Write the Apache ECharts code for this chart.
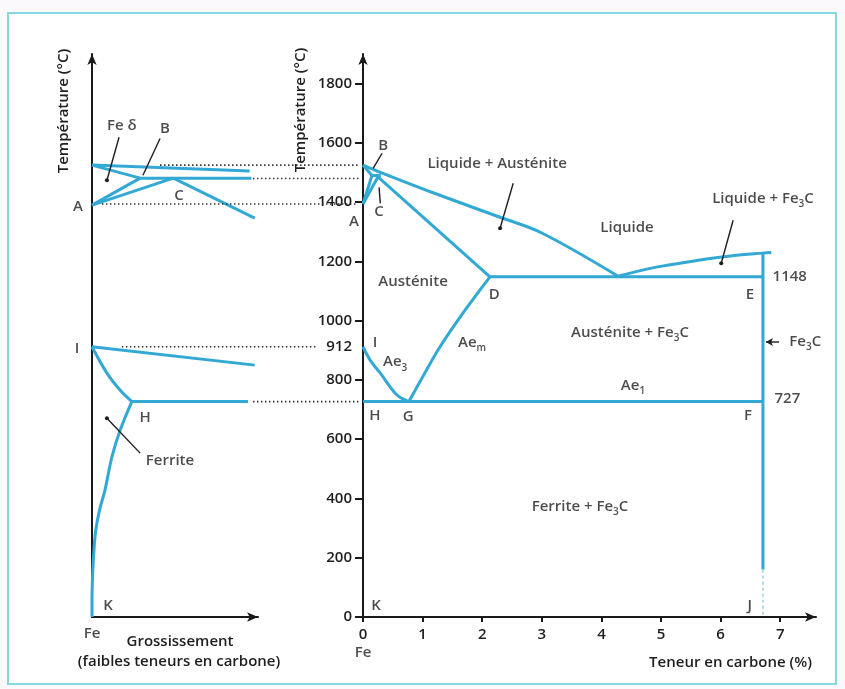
<!DOCTYPE html>
<html><head><meta charset="utf-8">
<script src="https://cdn.jsdelivr.net/npm/echarts@6/dist/echarts.min.js"></script>
<style>html,body{margin:0;padding:0;background:#fcf9fd;} #c{width:845px;height:689px;}</style>
</head><body><div id="c"></div>
<script>
// ---------------- data ----------------
const yTicks = [0, 200, 400, 600, 800, 1000, 1200, 1400, 1600, 1800];
const yExtraLabels = [912];
const xTicks = [0, 1, 2, 3, 4, 5, 6, 7];

// main diagram : x = teneur en carbone (%), y = température (°C)
const mLiquidus      = [[0,1525],[0.2,1508],[1.2,1430],[2.3,1349],[3.0,1296],[4.28,1150]];
const mDeltaSolidus  = [[0,1525],[0.15,1490]];
const mPeritectic    = [[0.15,1490],[0.3,1490]];
const mDeltaGamma    = [[0,1394],[0.15,1490]];
const mGammaLimit    = [[0,1394],[0.25,1485]];
const mSolidus       = [[0.25,1485],[2.13,1148]];
const mEutectic      = [[2.13,1148],[6.71,1148]];
const mHyperLiquidus = [[4.28,1150],[4.9,1180],[5.6,1203],[6.2,1219],[6.71,1228],[6.85,1230]];
const mCementite     = [[6.71,1228],[6.71,160]];
const mCementiteLow  = [[6.71,160],[6.71,0]];
const mAem           = [[0.77,727],[1.0,810],[1.29,911],[1.7,1032],[2.13,1148]];
const mAe3           = [[0,912],[0.12,867],[0.29,823],[0.57,749],[0.77,727]];
const mAe1           = [[0,727],[6.71,727]];

// enlarged panel (faibles teneurs en carbone), arbitrary enlarged carbon units
const lLiquidus      = [[0,1525],[9.5,1505]];
const lDeltaSolidus  = [[0,1525],[2.9,1481]];
const lPeritectic    = [[2.9,1481],[9.6,1481]];
const lDeltaGamma    = [[0,1390],[2.9,1481]];
const lGammaLimit    = [[0,1390],[4.9,1481]];
const lSolidus       = [[4.9,1481],[9.8,1346]];
const l912           = [[0,912],[9.8,850]];
const lIH            = [[0,912],[0.9,823],[1.7,765],[2.4,727]];
const lH727          = [[2.4,727],[9.4,727]];
const lFerrite       = [[2.4,727],[1.7,631],[1.2,540],[0.78,428],[0.45,360],[0.22,290],[0.1,210],[0.03,130],[0,60],[0,0]];

// dotted reference lines between the two panels (temperature, from, to)
const refTemps = [1525, 1480, 1394, 912, 727];
const refFrom  = [4.1, 9.7, 0.6, 1.8, 9.7];
const refTo    = [16.1, 16.1, 16.0, 13.5, 16.1];

// ---------------- annotations ----------------
const mainText = [
 ['A',-0.15,1335],['B',0.34,1592],['C',0.27,1366],['Liquide + Austénite',2.25,1531],
 ['Liquide',4.43,1312],['Liquide + Fe{s|3}C',6.71,1413],['1148',7.16,1147],['E',6.49,1089],
 ['Austénite',0.84,1133],['D',2.2,1089],['Austénite + Fe{s|3}C',4.48,958],
 ['Fe{s|3}C',7.42,928],['Ae{s|1}',4.53,782],['727',7.12,735],['F',6.46,678],
 ['I',0.2,927],['Ae{s|3}',0.54,860],['Ae{s|m}',1.83,927],['H',0.2,678],['G',0.76,675],
 ['Ferrite + Fe{s|3}C',3.64,371],['K',0.22,37],['J',6.49,37],['Fe',0,-121]
];
const leftText = [
 ['Fe δ',1.8,1659],['B',4.4,1649],['C',5.24,1420],['A',-0.84,1383],['I',-0.9,904],
 ['H',3.2,671],['Ferrite',4.7,526],['K',0.96,37],['Fe',0,-57]
];
const mainLeaders = [
 [[0.32,1565],[0.17,1514],false],[[0.29,1396],[0.27,1450],false],
 [[2.52,1464],[2.3,1312],true],[[6.21,1339],[6.01,1194],true]
];
const leftLeaders = [
 [[1.63,1619],[0.9,1474],true],[[4.1,1615],[3.07,1491],false],[[2.9,553],[0.9,671],true]
];
const fe3cArrow = [[6.76,928],[6.98,928]];

// ---------------- chart ----------------
const FONT = 'Open Sans';
const FS = 15;
const TXT = '#1e1e1e';
const CYAN = '#32a9d5';
const chart = echarts.init(document.getElementById('c'));

function phase(xi, data, extra) {
  return Object.assign({type:'line', xAxisIndex:xi, yAxisIndex:xi, data:data, showSymbol:false,
    symbol:'none', clip:false, silent:true, animation:false,
    lineStyle:{color:CYAN, width:3}}, extra||{});
}
function smooth(xi, data){ return phase(xi, data, {smooth:0.35, smoothMonotone:null}); }
function leader(xi, l){
  return {type:'line', xAxisIndex:xi, yAxisIndex:xi, clip:false, silent:true, animation:false,
    data:[{value:l[0], symbol:'none'}, {value:l[1], symbol:l[2]?'circle':'none', symbolSize:4}],
    showSymbol:true, itemStyle:{color:'#1e1e1e'}, lineStyle:{color:'#1e1e1e', width:1.4}};
}
const rich = {
  s:{fontSize:10, lineHeight:10, verticalAlign:'bottom', fontFamily:FONT, fontWeight:600, color:TXT}
};
function texts(xi, list){
  return {type:'scatter', xAxisIndex:xi, yAxisIndex:xi, clip:false, silent:true, animation:false,
    symbolSize:0, itemStyle:{color:'transparent'},
    data:list.map(t=>({name:t[0], value:[t[1],t[2]]})),
    label:{show:true, position:'inside', formatter:p=>p.name, color:TXT, fontFamily:FONT,
      fontWeight:600, fontSize:FS, lineHeight:21, rich:rich}};
}

const axisLineStyle = {color:'#1a1a1a', width:2};
const series = [
  smooth(0,mLiquidus), phase(0,mDeltaSolidus), phase(0,mPeritectic), phase(0,mDeltaGamma),
  phase(0,mGammaLimit), phase(0,mSolidus), phase(0,mEutectic), smooth(0,mHyperLiquidus),
  phase(0,mCementite), phase(0,mCementiteLow,{lineStyle:{color:'#7cc7df', width:1.2, type:[3,3]}}),
  smooth(0,mAem), smooth(0,mAe3), phase(0,mAe1),
  phase(1,lLiquidus), phase(1,lDeltaSolidus), phase(1,lPeritectic), phase(1,lDeltaGamma),
  phase(1,lGammaLimit), phase(1,lSolidus), phase(1,l912), smooth(1,lIH), phase(1,lH727),
  smooth(1,lFerrite),
  texts(0, mainText), texts(1, leftText),
  {type:'line', xAxisIndex:0, yAxisIndex:0, clip:false, silent:true, animation:false, showSymbol:true,
   data:[{value:fe3cArrow[0], symbol:'arrow', symbolSize:[6,7], symbolRotate:90}, {value:fe3cArrow[1], symbol:'none'}],
   itemStyle:{color:'#1e1e1e'}, lineStyle:{color:'#1e1e1e', width:1.4}}
];
mainLeaders.forEach(l=>series.push(leader(0,l)));
leftLeaders.forEach(l=>series.push(leader(1,l)));
refTemps.forEach((t,i)=>series.push({type:'line', xAxisIndex:2, yAxisIndex:2, silent:true, animation:false,
  symbol:'none', clip:false, data:[[refFrom[i],t],[refTo[i],t]],
  lineStyle:{color:'#333', width:1.6, type:[1.5,2.5]}}));

const lbl = {color:TXT, fontSize:FS, fontWeight:600, fontFamily:FONT, formatter:v=>String(v)};
chart.setOption({
  animation:false,
  textStyle:{fontFamily:FONT},
  grid:[
    {left:363, top:54, width:453, height:563},
    {left:92, top:54, width:166, height:563},
    {left:92, top:54, width:271, height:563}
  ],
  xAxis:[
    {type:'value', gridIndex:0, min:0, max:7.6,
     axisLine:{show:true, lineStyle:axisLineStyle, symbol:['none','arrow'], symbolSize:[7,11]},
     axisTick:{show:true, customValues:xTicks, length:5, lineStyle:{color:'#1a1a1a', width:2}},
     axisLabel:Object.assign({customValues:xTicks, margin:10}, lbl),
     splitLine:{show:false}},
    {type:'value', gridIndex:1, min:0, max:10,
     axisLine:{show:true, lineStyle:axisLineStyle, symbol:['none','arrow'], symbolSize:[7,11]},
     axisTick:{show:false}, axisLabel:{show:false}, splitLine:{show:false}},
    {type:'value', gridIndex:2, min:0, max:16.33, show:false}
  ],
  yAxis:[
    {type:'value', gridIndex:0, min:0, max:1900,
     axisLine:{show:true, lineStyle:axisLineStyle, symbol:['none','arrow'], symbolSize:[7,11]},
     axisTick:{show:true, customValues:yTicks, length:8, lineStyle:{color:'#1a1a1a', width:2}},
     axisLabel:Object.assign({customValues:yTicks.concat(yExtraLabels), margin:11}, lbl),
     splitLine:{show:false}},
    {type:'value', gridIndex:1, min:0, max:1900,
     axisLine:{show:true, lineStyle:axisLineStyle, symbol:['none','arrow'], symbolSize:[7,11]},
     axisTick:{show:false}, axisLabel:{show:false}, splitLine:{show:false}},
    {type:'value', gridIndex:2, min:0, max:1900, show:false}
  ],
  graphic:[
    {type:'rect', z:-10, shape:{x:8, y:13, width:828, height:671},
     style:{fill:'#ffffff', stroke:'#86d8dc', lineWidth:2}},
    {type:'text', x:64, y:111, rotation:Math.PI/2,
     style:{text:'Température (°C)', fill:TXT, font:'600 15px "Open Sans"', align:'center', verticalAlign:'middle'}},
    {type:'text', x:301, y:110, rotation:Math.PI/2,
     style:{text:'Température (°C)', fill:TXT, font:'600 15px "Open Sans"', align:'center', verticalAlign:'middle'}},
    {type:'text', x:180, y:642,
     style:{text:'Grossissement', fill:TXT, font:'600 15px "Open Sans"', align:'center', verticalAlign:'middle'}},
    {type:'text', x:179, y:662,
     style:{text:'(faibles teneurs en carbone)', fill:TXT, font:'600 15px "Open Sans"', align:'center', verticalAlign:'middle'}},
    {type:'text', x:812, y:663,
     style:{text:'Teneur en carbone (%)', fill:TXT, font:'600 15px "Open Sans"', align:'right', verticalAlign:'middle'}}
  ],
  series:series
});
</script>
</body></html>
